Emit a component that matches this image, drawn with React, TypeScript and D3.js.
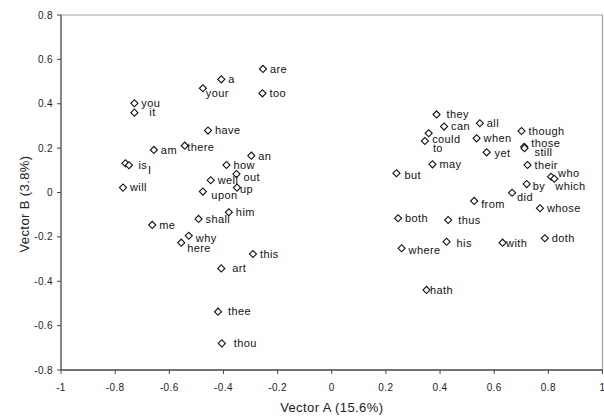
import React from "react";
import * as d3 from "d3";

// ---- data ----
const words = [
  "are", "a", "your", "too", "you", "it", "have", "there", "am", "an",
  "is", "I", "will", "how", "out", "well", "up", "upon", "him", "shall",
  "me", "why", "here", "this", "art", "thee", "thou",
  "they", "can", "all", "could", "to", "when", "though", "those", "still",
  "yet", "may", "their", "but", "who", "which", "by", "did", "from",
  "whose", "both", "thus", "where", "his", "with", "doth", "hath",
];
const vectorA = [
  -0.254, -0.408, -0.476, -0.256, -0.729, -0.729, -0.457, -0.543, -0.657, -0.297,
  -0.762, -0.749, -0.771, -0.389, -0.352, -0.447, -0.350, -0.476, -0.380, -0.492,
  -0.663, -0.528, -0.556, -0.291, -0.408, -0.420, -0.406,
  0.387, 0.415, 0.547, 0.358, 0.344, 0.535, 0.701, 0.711, 0.712,
  0.572, 0.372, 0.723, 0.239, 0.810, 0.822, 0.720, 0.666, 0.526,
  0.769, 0.245, 0.430, 0.258, 0.424, 0.631, 0.787, 0.350,
];
const vectorB = [
  0.557, 0.510, 0.470, 0.447, 0.402, 0.360, 0.279, 0.211, 0.192, 0.166,
  0.132, 0.123, 0.022, 0.124, 0.083, 0.055, 0.022, 0.004, -0.089, -0.119,
  -0.146, -0.195, -0.226, -0.277, -0.342, -0.537, -0.680,
  0.352, 0.297, 0.312, 0.267, 0.232, 0.244, 0.277, 0.206, 0.200,
  0.181, 0.127, 0.124, 0.087, 0.071, 0.062, 0.038, -0.001, -0.038,
  -0.071, -0.116, -0.124, -0.251, -0.222, -0.226, -0.206, -0.439,
];
const xTicks = [-1, -0.8, -0.6, -0.4, -0.2, 0, 0.2, 0.4, 0.6, 0.8, 1];
const yTicks = [-0.8, -0.6, -0.4, -0.2, 0, 0.2, 0.4, 0.6, 0.8];
const xTitle = "Vector A (15.6%)";
const yTitle = "Vector B (3.8%)";

// label placement tweaks (pixels), mimicking the reference layout
const labelNudge: Record<string, [number, number]> = {
  your: [-4, 5], it: [8, 0], there: [-4.5, 1], is: [6, 2], I: [12, 5],
  up: [-4, 1.5], upon: [1.5, 4], why: [0, 2.6], here: [-1, 5.6], art: [4, 0],
  thee: [3, 0], thou: [5, 0], they: [3, 0], could: [-3.5, 5.6], to: [1, 7],
  those: [0, -3.4], still: [3, 4.3], which: [-6, 7.7], who: [0, -4],
  did: [-2, 4], from: [0, 3], thus: [3, 0], his: [3, 1.6], with: [-3.5, 0.7],
  hath: [-3.5, 0], where: [0, 2.4], but: [1, 1.7], out: [0, 2.7], yet: [1, 1],
  by: [-1, 2],
};

const W = 604;
const H = 419;
const left = 61;
const right = 602.5;
const top = 15;
const bottom = 370;
const FONT = "'Liberation Sans', Arial, sans-serif";

export default function App() {
  const x = d3.scaleLinear().domain([-1, 1]).range([left, right]);
  const y = d3.scaleLinear().domain([-0.8, 0.8]).range([bottom, top]);
  const diamond = d3.symbol(d3.symbolSquare, 25)() as string;
  const fmt = (v: number) => (v === 0 ? "0" : String(v));

  return (
    <svg
      width={W}
      height={H}
      style={{ position: "absolute", left: 0, top: 0, background: "#fff" }}
      fontFamily={FONT}
    >
      <rect x={0} y={0} width={W} height={H} fill="#fff" />
      {/* plot frame */}
      <line x1={left} x2={right} y1={top} y2={top} stroke="#a0a0a0" strokeWidth={1.2} />
      <line x1={right} x2={right} y1={top} y2={bottom} stroke="#a0a0a0" strokeWidth={1.2} />
      {/* axes */}
      <line x1={left} x2={left} y1={top} y2={bottom} stroke="#444" strokeWidth={1.3} />
      <line x1={left} x2={right} y1={bottom} y2={bottom} stroke="#444" strokeWidth={1.3} />
      {yTicks.map((t) => (
        <g key={"y" + t}>
          <line x1={left - 4} x2={left} y1={y(t)} y2={y(t)} stroke="#444" strokeWidth={1} />
          <text
            x={left - 8}
            y={y(t)}
            dy="0.35em"
            textAnchor="end"
            fontSize={10}
            letterSpacing={0.4}
            fill="#222"
          >
            {fmt(t)}
          </text>
        </g>
      ))}
      {xTicks.map((t) => (
        <g key={"x" + t}>
          <line x1={x(t)} x2={x(t)} y1={bottom} y2={bottom + 4} stroke="#444" strokeWidth={1} />
          <text
            x={x(t)}
            y={387}
            dy="0.35em"
            textAnchor="middle"
            fontSize={10}
            letterSpacing={0.4}
            fill="#222"
          >
            {fmt(t)}
          </text>
        </g>
      ))}
      <text
        x={(left + right) / 2}
        y={407}
        dy="0.35em"
        textAnchor="middle"
        fontSize={13}
        letterSpacing={0.4}
        fill="#222"
      >
        {xTitle}
      </text>
      <text
        transform={`translate(24,${204}) rotate(-90)`}
        dy="0.35em"
        textAnchor="middle"
        fontSize={13}
        letterSpacing={0.4}
        fill="#222"
      >
        {yTitle}
      </text>
      {/* points */}
      {words.map((w, i) => {
        const px = x(vectorA[i]);
        const py = y(vectorB[i]);
        const [ndx, ndy] = labelNudge[w] || [0, 0];
        return (
          <g key={w + i}>
            <path
              d={diamond}
              transform={`translate(${px},${py}) rotate(45)`}
              fill="#fff"
              stroke="#111"
              strokeWidth={1.1}
            />
            <text
              x={px + 7 + ndx}
              y={py + ndy}
              dy="0.35em"
              fontSize={11}
              letterSpacing={0.4}
              fill="#111"
            >
              {w}
            </text>
          </g>
        );
      })}
    </svg>
  );
}
